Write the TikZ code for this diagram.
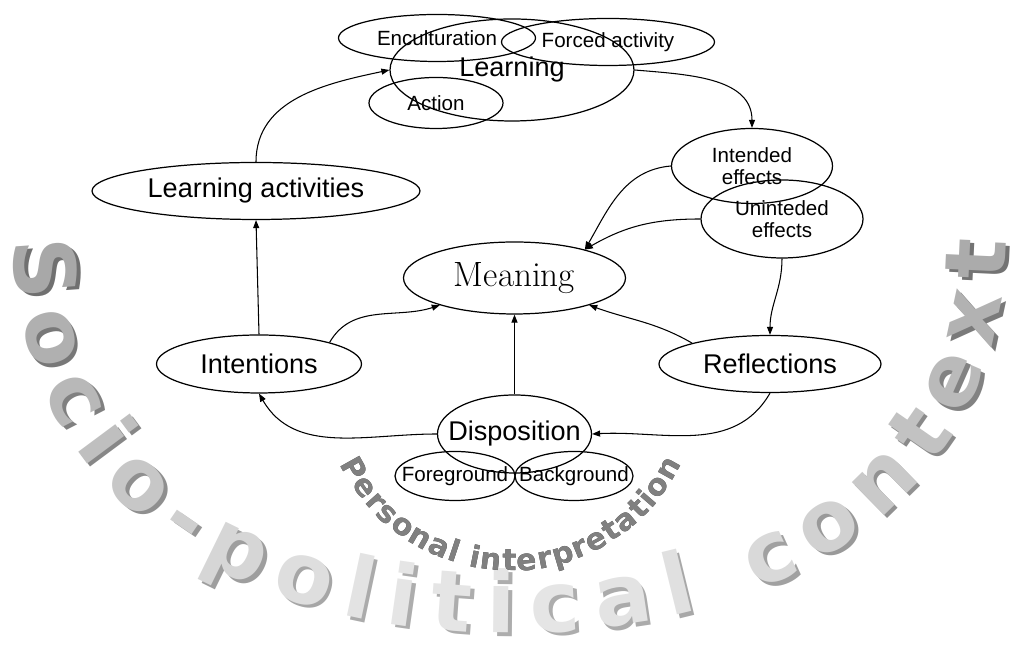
\documentclass[tikz,border=0pt]{standalone}
\usepackage{fontspec}
\newfontfamily\arialfont{Liberation Sans}
\newfontfamily\wmfont{DejaVu Sans}
\usepackage{tikz}
\usetikzlibrary{positioning, arrows.meta, shapes.geometric, decorations.text}

\newcommand\wmshade{0}
\newcommand\wmsize{54}
\newcommand\wmcol[1]{\wmfont\bfseries\fontsize{\wmsize}{\wmsize}\selectfont\color{black!\the\numexpr#1+\wmshade\relax}}

\begin{document}
\begin{tikzpicture}[
    oval/.style={ellipse, draw=black, line width=0.7pt, inner sep=0pt},
    big/.style={font=\arialfont\fontsize{15.4}{18}\selectfont},
    small/.style={font=\arialfont\fontsize{11.7}{12.5}\selectfont, align=center},
    arrow/.style={-{Triangle[length=1.6mm, width=1.2mm]}, line width=0.6pt},
    wmtext/.style={decorate, decoration={text along path, text align={fit to path},
        text={|\wmcol{34}|S|\wmcol{31}|o|\wmcol{28}|c|\wmcol{25}|i|\wmcol{22}|o|\wmcol{19}|-|\wmcol{16}|p|\wmcol{13}|o|\wmcol{11}|l|\wmcol{10}|itic|\wmcol{11}|a|\wmcol{12}|l |\wmcol{15}|c|\wmcol{18}|o|\wmcol{21}|n|\wmcol{24}|t|\wmcol{27}|e|\wmcol{30}|x|\wmcol{33}|t}}},
    pitext/.style={decorate, decoration={text along path, text align={fit to path},
        text={|\wmcol{50}|Personal interpretation}}}
]
    \useasboundingbox (0,0) rectangle (20.24,13);

    % Socio-political context
    \begin{scope}
        \def\wmsize{48}\def\wmshade{22}
        \path[wmtext, shift={(0.07,-0.07)}] (0.28,8.2) .. controls (0.28,3.4) and (4.24,0.34) .. (10.2,0.34) .. controls (16.16,0.34) and (20.12,3.4) .. (20.12,8.2);
        \def\wmshade{0}
        \path[wmtext] (0.28,8.2) .. controls (0.28,3.4) and (4.24,0.34) .. (10.2,0.34) .. controls (16.16,0.34) and (20.12,3.4) .. (20.12,8.2);
    \end{scope}

    % Personal interpretation
    \coordinate (pcen) at (10.22, 5.38);
    \begin{scope}
        \def\wmsize{17}\def\wmshade{28}
        \path[pitext, shift={(0.035,-0.035)}] ([shift={(206:3.8)}]pcen) arc[start angle=206, end angle=334, radius=3.8];
        \def\wmshade{0}
        \path[pitext] ([shift={(206:3.8)}]pcen) arc[start angle=206, end angle=334, radius=3.8];
    \end{scope}

    % Learning
    \node[oval, big, minimum width=4.88cm, minimum height=2.04cm] (learning) at (10.24, 11.6) {Learning};
    \node[oval, small, minimum width=3.94cm, minimum height=0.94cm] (encult) at (8.74, 12.24) {Enculturation};
    \node[oval, small, minimum width=4.26cm, minimum height=0.94cm] (forced) at (12.16, 12.16) {Forced activity};
    \node[oval, small, minimum width=2.68cm, minimum height=1.02cm] (action) at (8.72, 10.94) {Action};

    % Effects
    \node[oval, small, minimum width=3.22cm, minimum height=1.5cm] (intended) at (15.04, 9.68) {Intended\\effects};
    \node[oval, small, minimum width=3.24cm, minimum height=1.56cm] (unintended) at (15.64, 8.62) {Uninteded\\effects};

    % Meaning
    \node[oval, font=\fontsize{20}{24}\selectfont, minimum width=4.44cm, minimum height=1.44cm] (meaning) at (10.29, 7.44) {Meaning};

    % Left side
    \node[oval, big, minimum width=6.56cm, minimum height=1.14cm] (lactiv) at (5.12, 9.18) {Learning activities};
    \node[oval, big, minimum width=4.1cm, minimum height=1.16cm] (intentions) at (5.18, 5.72) {Intentions};

    % Right side
    \node[oval, big, minimum width=4.44cm, minimum height=1.14cm] (reflections) at (15.4, 5.72) {Reflections};

    % Disposition
    \node[oval, big, inner xsep=-0.3cm, minimum width=3.08cm, minimum height=1.56cm] (disposition) at (10.29, 4.32) {Disposition};
    \node[oval, small, inner xsep=-0.3cm, minimum width=2.4cm, minimum height=0.98cm] (foreground) at (9.1, 3.48) {Foreground};
    \node[oval, small, inner xsep=-0.3cm, minimum width=2.36cm, minimum height=0.98cm] (background) at (11.48, 3.48) {Background};

    % Arrows
    \draw[arrow] (lactiv.north) to[out=90, in=192] (learning.west);
    \draw[arrow] (learning.east) to[out=-5, in=90] (intended.north);
    \draw[arrow] (intentions.north) -- (lactiv.south);
    \draw[arrow] (intended.west) to[out=185, in=60] (meaning.22);
    \draw[arrow] (unintended.west) to[out=180, in=30] (meaning.22);
    \draw[arrow] (unintended.south) to[out=-90, in=90] (reflections.north);
    \draw[arrow] (reflections.165) to[out=150, in=-20] (meaning.-20);
    \draw[arrow] (intentions.17) to[out=60, in=198] (meaning.200);
    \draw[arrow] (disposition.north) -- (meaning.south);
    \draw[arrow] (disposition.west) to[out=180, in=-60] (intentions.south);
    \draw[arrow] (reflections.south) to[out=-120, in=3] (disposition.east);

\end{tikzpicture}
\end{document}
